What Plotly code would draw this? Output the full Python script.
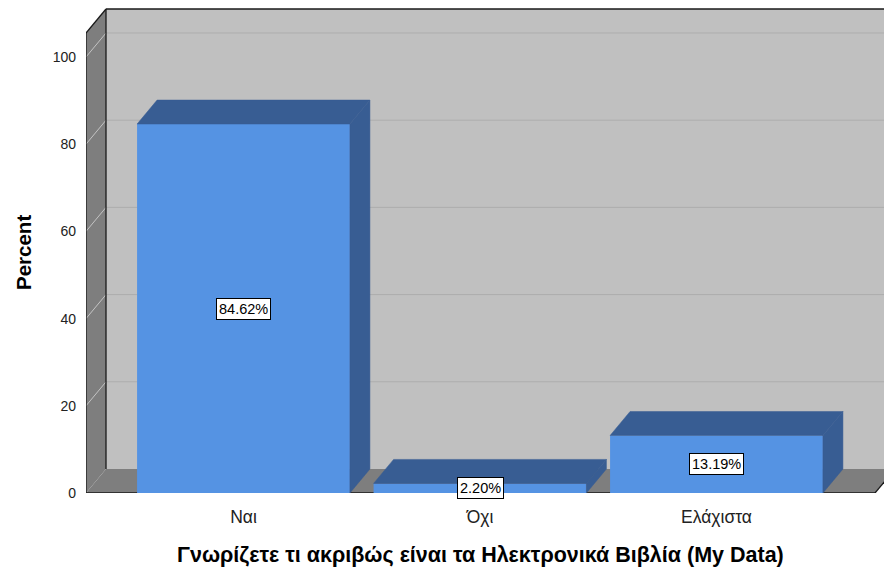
import plotly.graph_objects as go

# ---------------- data ----------------
categories = ["Ναι", "Όχι", "Ελάχιστα"]
percent = [84.62, 2.20, 13.19]
y_ticks = [0, 20, 40, 60, 80, 100]
x_title = "Γνωρίζετε τι ακριβώς είναι τα Ηλεκτρονικά Βιβλία (My Data)"
y_title = "Percent"

# ---------------- geometry / style (page pixels) ----------------
OFF = 0                      # body margin removed by post_script
W, H = 884, 573              # figure size
PLOT_LEFT_ABS, PLOT_TOP_ABS, PLOT_BOTTOM_ABS, PLOT_RIGHT_ABS = 86, 8, 493, 884
ML = PLOT_LEFT_ABS - OFF
MT = PLOT_TOP_ABS - OFF
MB = OFF + H - PLOT_BOTTOM_ABS
MR = OFF + W - PLOT_RIGHT_ABS
PX_PER_CAT = 236.5
FIRST_CENTER_ABS = 243.5
PX_PER_UNIT = 4.36
BAR_W = 0.9
DEPTH_PX_X, DEPTH_PX_Y = 20, 24
BACK_TOP_ABS = 9
FLOOR_END_ABS = 875

FRONT = "#5593E3"
SIDE = "#385D93"
BACK_WALL = "#C0C0C0"
SIDE_WALL = "#7E7E7E"
GRID = "#ADADAD"
FONT = "Liberation Sans, Arial, sans-serif"

plot_w = W - ML - MR
plot_h = H - MT - MB
x0 = (PLOT_LEFT_ABS - FIRST_CENTER_ABS) / PX_PER_CAT
x1 = x0 + plot_w / PX_PER_CAT
ytop_range = plot_h / PX_PER_UNIT
dx = DEPTH_PX_X / PX_PER_CAT
dy = DEPTH_PX_Y / PX_PER_UNIT
ytop = (PLOT_BOTTOM_ABS - BACK_TOP_ABS) / PX_PER_UNIT
floor_end = (FLOOR_END_ABS - FIRST_CENTER_ABS) / PX_PER_CAT

xs = list(range(len(categories)))

fig = go.Figure()

# front faces
fig.add_trace(go.Bar(x=xs, y=percent, width=BAR_W, marker=dict(color=FRONT, line=dict(width=0)),
                     hoverinfo="skip", showlegend=False))

# top and side faces
for xi, v in zip(xs, percent):
    xl, xr = xi - BAR_W / 2, xi + BAR_W / 2
    top_x = [xl, xl + dx, xr + dx, xr, xl]
    top_y = [v, v + dy, v + dy, v, v]
    side_x = [xr, xr, xr + dx, xr + dx, xr]
    side_y = [0, v, v + dy, dy, 0]
    for px_, py_ in ((top_x, top_y), (side_x, side_y)):
        fig.add_trace(go.Scatter(x=px_, y=py_, fill="toself", fillcolor=SIDE, mode="lines",
                                 line=dict(color=SIDE, width=0.5), hoverinfo="skip", showlegend=False))

shapes = []
# back wall
shapes.append(dict(type="rect", xref="x", yref="y", x0=x0 + dx, x1=x1 + 0.2, y0=dy, y1=ytop,
                   fillcolor=BACK_WALL, line=dict(width=0), layer="below"))
# back grid lines
for v in y_ticks[1:]:
    shapes.append(dict(type="line", xref="x", yref="y", x0=x0 + dx, x1=x1 + 0.2, y0=v + dy, y1=v + dy,
                       line=dict(color=GRID, width=1), layer="below"))
# left wall
shapes.append(dict(type="path", xref="x", yref="y",
                   path=f"M {x0},0 L {x0},{ytop - dy} L {x0 + dx},{ytop} L {x0 + dx},{dy} Z",
                   fillcolor=SIDE_WALL, line=dict(width=0), layer="below"))
for v in y_ticks[1:]:
    shapes.append(dict(type="line", xref="x", yref="y", x0=x0, x1=x0 + dx, y0=v, y1=v + dy,
                       line=dict(color="#C4C4C4", width=1), layer="below"))
# floor
shapes.append(dict(type="path", xref="x", yref="y",
                   path=f"M {x0},0 L {x0 + dx},{dy} L {floor_end + dx},{dy} L {floor_end},0 Z",
                   fillcolor=SIDE_WALL, line=dict(width=0), layer="below"))
# edges
edges = [
    (x0 + dx, dy, x0 + dx, ytop),
    (x0 + dx, ytop, x1 + 0.2, ytop),
    (x0, 0, x0, ytop - dy),
    (x0, ytop - dy, x0 + dx, ytop),
    (x0, 0, floor_end, 0),
    (floor_end, 0, floor_end + dx, dy),
]
for ax0, ay0, ax1, ay1 in edges:
    shapes.append(dict(type="line", xref="x", yref="y", x0=ax0, y0=ay0, x1=ax1, y1=ay1,
                       line=dict(color="#1A1A1A", width=1.3), layer="below"))

annotations = []
for xi, v in zip(xs, percent):
    annotations.append(dict(x=xi, y=v / 2, xref="x", yref="y", text=f"{v:.2f}%", showarrow=False,
                            bgcolor="white", bordercolor="black", borderwidth=1, borderpad=2,
                            font=dict(family=FONT, size=14.5, color="black")))


def paper_x(abs_x):
    return (abs_x - PLOT_LEFT_ABS) / plot_w


def paper_y(abs_y):
    return (PLOT_BOTTOM_ABS - abs_y) / plot_h


annotations.append(dict(x=paper_x(480), y=paper_y(555), xref="paper", yref="paper",
                        text=f"<b>{x_title}</b>", showarrow=False, xanchor="center", yanchor="middle",
                        font=dict(family=FONT, size=21.5, color="black")))
annotations.append(dict(x=paper_x(23), y=paper_y(253), xref="paper", yref="paper",
                        text=f"<b>{y_title}</b>", showarrow=False, textangle=-90, xanchor="center",
                        yanchor="middle", font=dict(family=FONT, size=20.5, color="black")))

fig.update_layout(
    width=W, height=H, margin=dict(l=ML, r=MR, t=MT, b=MB, pad=0),
    paper_bgcolor="white", plot_bgcolor="white",
    shapes=shapes, annotations=annotations, showlegend=False,
    xaxis=dict(range=[x0, x1], tickvals=xs, ticktext=categories, showgrid=False, zeroline=False,
               showline=False, ticks="", ticklabelstandoff=11, fixedrange=True,
               tickfont=dict(family=FONT, size=17.5, color="#222")),
    yaxis=dict(range=[0, ytop_range], tickvals=y_ticks, showgrid=False, zeroline=False, showline=False,
               ticks="", ticklabelstandoff=9, fixedrange=True,
               tickfont=dict(family=FONT, size=14, color="#222")),
)

fig.write_html("out.html", config={"displayModeBar": False},
               post_script="document.body.style.margin='0';document.body.style.overflow='hidden';")
